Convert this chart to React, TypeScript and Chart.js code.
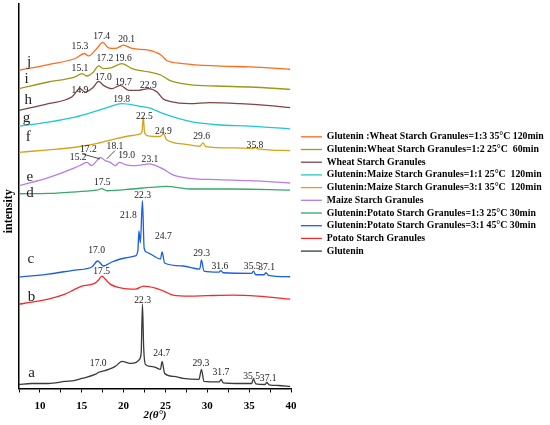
import { useEffect, useRef } from 'react';
import { Chart, registerables } from 'chart.js';

Chart.register(...registerables);
Chart.defaults.font.family = '"Liberation Serif", "Times New Roman", serif';

type Pt = [number, number];

// 2θ (deg) vs intensity (arbitrary, curves stacked)
const gluteninA: Pt[] = [
   [7.5, 4], [9, 5], [11, 5], [13, 7], [14.2, 8], [15, 10], [16.6, 14], [17, 16], [17.4, 17], [18.2, 19],
   [19, 22], [19.8, 27], [20.8, 25], [21.5, 26], [21.9, 29], [22.1, 36], [22.25, 84], [22.4, 40], [22.6, 24],
   [23.2, 22], [23.8, 21], [24.4, 19], [24.6, 27], [24.9, 15], [26, 12], [27.1, 10], [29, 9], [29.3, 19],
   [29.6, 7], [31.4, 6.5], [31.65, 9], [31.9, 5.5], [33.5, 5], [35.3, 5], [35.5, 9.5], [35.8, 4.7],
   [36.9, 4], [37.1, 6], [37.4, 3.7], [38.5, 3], [39.9, 2],
];
const potatoB: Pt[] = [
   [7.5, 84], [9, 86], [11, 89], [13, 94], [14, 98], [15, 102], [16.6, 105], [17, 108], [17.4, 112],
   [17.8, 109], [18.4, 104], [19.8, 100], [21.4, 99], [22.4, 102], [23.8, 100], [24.8, 97], [25.9, 93],
   [27.9, 92], [30, 92.5], [33.1, 93], [36, 92], [39.9, 89],
];
const glutPotato31C: Pt[] = [
   [7.5, 111], [11, 114], [14.2, 118], [16.2, 121], [16.9, 127], [17.6, 122], [18.6, 126], [20.2, 130],
   [21.4, 132], [21.7, 137], [21.83, 157], [22, 145], [22.25, 187], [22.45, 140], [22.7, 136], [23.2, 134],
   [24.4, 129], [24.6, 136], [24.9, 125], [27.1, 122], [29.1, 119], [29.3, 128], [29.6, 117], [31.4, 116],
   [31.6, 117.5], [31.9, 115.3], [35.3, 114.7], [35.5, 117], [35.8, 113.3], [36.8, 113.3], [37, 115.5],
   [37.3, 112.7], [39.9, 111.3],
];
const glutPotato13D: Pt[] = [
   [7.5, 194], [11, 194.3], [15, 196.3], [16.8, 197.5], [17.4, 199], [18, 197], [21, 198.7], [23.2, 200.3],
   [25.1, 201.3], [27.9, 198.7], [33.1, 198.7], [39.9, 197.7],
];
const maizeE: Pt[] = [
   [7.5, 202], [11, 210], [14.2, 220], [15, 223], [15.6, 225.3], [16.2, 222], [16.8, 227], [17.2, 230.3],
   [17.8, 227], [18.4, 225.3], [19, 222], [19.5, 225.3], [20.2, 223], [21, 222], [22, 222.5], [23, 223.7],
   [24.7, 218.7], [25.9, 212.7], [27.9, 209.3], [31.1, 208], [35.1, 207], [39.9, 204.7],
];
const glutMaize31F: Pt[] = [
   [7.5, 235.3], [11, 237.7], [14.2, 240.3], [16.6, 243.7], [19, 248.7], [21, 252], [22, 253.7], [22.2, 256],
   [22.35, 270.3], [22.5, 255], [22.8, 252], [24.3, 251], [24.8, 253.7], [25.1, 248], [27.1, 243.7],
   [29.1, 241.3], [29.5, 244.7], [29.8, 241], [33.1, 239.7], [35.5, 239], [35.7, 240.3], [36, 238.7],
   [39.9, 237],
];
const glutMaize11G: Pt[] = [
   [7.5, 261.3], [11, 265.3], [14.2, 270.3], [16.6, 276], [18.2, 280.3], [19.8, 283.7], [21.8, 281.3],
   [23.2, 279.3], [23.8, 277], [25.1, 272.7], [27.9, 266], [31.1, 262.7], [35.1, 261.3], [39.9, 258.7],
];
const wheatH: Pt[] = [
   [7.5, 277], [11, 283.7], [13.8, 290.3], [14.8, 298.7], [15.4, 295.3], [16.4, 300.3], [17, 306],
   [17.6, 302], [18.6, 298.7], [19.6, 302], [20.6, 297], [21.8, 297], [23, 298.7], [24, 295.3],
   [24.7, 288.7], [25.5, 286], [27.9, 283.7], [30.3, 284.7], [33.9, 283.7], [37.1, 282], [39.9, 279.7],
];
const glutWheat12I: Pt[] = [
   [7.5, 298.7], [11, 305.3], [14.2, 310.3], [15, 313.7], [15.6, 311.3], [16.4, 315.3], [17, 321.3],
   [17.6, 318.7], [18.6, 319.7], [19.8, 323.7], [21, 318.7], [23, 315.3], [24.5, 312], [25.5, 307],
   [27.9, 302.7], [31.1, 301.3], [35.1, 300.3], [39.9, 298],
];
const glutWheat13J: Pt[] = [
   [7.5, 317], [11, 322.7], [14.2, 328.7], [15.3, 333.7], [15.8, 331.3], [16.8, 338.7], [17.5, 344.7],
   [18.2, 339.3], [19, 338.7], [20, 342], [21, 338.7], [23, 337], [24.5, 332], [25.1, 327], [27.1, 323.7],
   [31.1, 321.3], [35.1, 320.3], [39.9, 318],
];

const seriesData = [
   gluteninA, potatoB, glutPotato31C, glutPotato13D, maizeE,
   glutMaize31F, glutMaize11G, wheatH, glutWheat12I, glutWheat13J,
];
const seriesNames = [
   'Glutenin',
   'Potato Starch Granules',
   'Glutenin:Potato Starch Granules=3:1 45°C 30min',
   'Glutenin:Potato Starch Granules=1:3 25°C 30min',
   'Maize Starch Granules',
   'Glutenin:Maize Starch Granules=3:1 35°C  120min',
   'Glutenin:Maize Starch Granules=1:1 25°C  120min',
   'Wheat Starch Granules',
   'Glutenin:Wheat Starch Granules=1:2 25°C  60min',
   'Glutenin :Wheat Starch Granules=1:3 35°C 120min',
];
const seriesColors = [
   '#3a3a3a', '#f5282a', '#1a5ee6', '#35a86a', '#b57ded',
   '#d6a21a', '#1ec8d2', '#7e4545', '#9a9a17', '#ff6b1a',
];

// curve letters and peak labels: [2θ, intensity, text]
const curveLetters: [number, number, string][] = [
   [9.0, 15, 'a'], [9.0, 91, 'b'], [8.9, 129, 'c'], [8.8, 195, 'd'], [8.8, 211, 'e'],
   [8.6, 250, 'f'], [8.4, 269, 'g'], [8.6, 287, 'h'], [8.4, 308, 'i'], [8.7, 325, 'j'],
];
const peakLabels: [number, number, string][] = [
   [14.79, 340.3, '15.3'], [17.38, 351, '17.4'], [20.37, 347.7, '20.1'],
   [14.79, 318.7, '15.1'], [17.77, 328.7, '17.2'], [19.96, 328.7, '19.6'],
   [14.79, 297, '14.9'], [17.57, 310.3, '17.0'], [19.96, 305.3, '19.7'], [22.95, 302, '22.9'],
   [19.77, 288, '19.8'],
   [22.47, 271.3, '22.5'], [24.74, 256.3, '24.9'], [29.33, 251, '29.6'], [35.7, 242, '35.8'],
   [15.78, 237.7, '17.2'], [18.97, 241, '18.1'], [14.58, 229.7, '15.2'], [20.37, 232, '19.0'], [23.15, 227.7, '23.1'],
   [17.45, 205, '17.5'],
   [22.28, 192.7, '22.3'], [20.56, 172, '21.8'], [24.74, 151, '24.7'], [16.78, 137.7, '17.0'],
   [29.33, 134.3, '29.3'], [31.51, 122, '31.6'], [35.37, 121.7, '35.5'], [37.09, 121, '37.1'],
   [17.38, 116.3, '17.5'],
   [22.28, 88, '22.3'], [24.55, 35.3, '24.7'], [16.97, 25.3, '17.0'], [29.24, 25.3, '29.3'],
   [31.63, 16.3, '31.7'], [35.3, 11.7, '35.5'], [37.28, 9.7, '37.1'],
];
// pointer lines for the maize peaks: [x1, y1, x2, y2]
const pointerLines: [number, number, number, number][] = [
   [15.06, 233.7, 17.18, 228.7],
   [18.97, 237, 17.98, 228.7],
];

const annotationPlugin = {
   id: 'peakText',
   afterDatasetsDraw(chart: Chart) {
      const { ctx } = chart;
      const xs = chart.scales.x;
      const ys = chart.scales.y;
      ctx.save();
      ctx.fillStyle = '#222';
      ctx.textAlign = 'center';
      ctx.textBaseline = 'middle';
      ctx.font = '9.6px "Liberation Serif"';
      peakLabels.forEach(([vx, vy, t]) => {
         ctx.fillText(t, xs.getPixelForValue(vx), ys.getPixelForValue(vy));
      });
      ctx.font = '15px "Liberation Serif"';
      curveLetters.forEach(([vx, vy, t]) => {
         ctx.fillText(t, xs.getPixelForValue(vx), ys.getPixelForValue(vy));
      });
      ctx.strokeStyle = '#222';
      ctx.lineWidth = 0.8;
      pointerLines.forEach(([x1, y1, x2, y2]) => {
         ctx.beginPath();
         ctx.moveTo(xs.getPixelForValue(x1), ys.getPixelForValue(y1));
         ctx.lineTo(xs.getPixelForValue(x2), ys.getPixelForValue(y2));
         ctx.stroke();
      });
      ctx.restore();
   },
};

export default function App() {
   const chartRef = useRef<HTMLCanvasElement>(null);
   const chartInstance = useRef<Chart | null>(null);

   useEffect(() => {
      document.body.style.margin = '0';
      if (!chartRef.current) return;
      if (chartInstance.current) chartInstance.current.destroy();

      chartInstance.current = new Chart(chartRef.current, {
         type: 'line',
         data: {
            datasets: seriesData.map((pts, i) => ({
               label: seriesNames[i],
               data: pts.map(([x, y]) => ({ x, y })),
               borderColor: seriesColors[i],
               backgroundColor: seriesColors[i],
               borderWidth: 1.3,
               pointRadius: 0,
               cubicInterpolationMode: 'monotone' as const,
            })),
         },
         options: {
            responsive: true,
            maintainAspectRatio: false,
            animation: false,
            layout: { padding: { top: 4, right: 0, bottom: 0, left: 0 } },
            scales: {
               x: {
                  type: 'linear',
                  min: 7.5,
                  max: 40,
                  border: { display: true, color: '#000', width: 1.5 },
                  grid: {
                     display: true,
                     drawOnChartArea: false,
                     drawTicks: true,
                     tickLength: 4,
                     color: '#000',
                     lineWidth: 1,
                  },
                  ticks: {
                     stepSize: 2.5,
                     autoSkip: false,
                     maxRotation: 0,
                     padding: 8.5,
                     color: '#000',
                     font: { size: 11, weight: 'bold', lineHeight: 1 },
                     callback: (v) => (Number(v) % 5 === 0 ? String(v) : ''),
                  },
                  title: {
                     display: true,
                     text: '2(θ°)',
                     color: '#000',
                     font: { size: 11, weight: 'bold', style: 'italic', lineHeight: 1 },
                     padding: { top: -11, bottom: 4.5 },
                  },
               },
               y: {
                  min: 0,
                  max: 383,
                  border: { display: true, color: '#000', width: 1.5 },
                  grid: { display: false, drawTicks: false },
                  ticks: { display: false },
                  title: {
                     display: true,
                     text: 'intensity\u00a0\u00a0\u00a0\u00a0\u00a0\u00a0\u00a0\u00a0\u00a0\u00a0',
                     color: '#000',
                     font: { size: 12, weight: 'bold' },
                     padding: { top: 2, bottom: 2.6 },
                  },
               },
               gap: {
                  position: 'right',
                  display: true,
                  grid: { display: false, drawTicks: false },
                  border: { display: false },
                  ticks: { display: false },
                  afterFit: (s) => {
                     s.width = 7;
                  },
               },
            },
            plugins: {
               legend: {
                  position: 'right',
                  align: 'start',
                  reverse: true,
                  maxWidth: 252,
                  title: {
                     display: true,
                     text: ' ',
                     font: { size: 10, lineHeight: 1.2 },
                     padding: { top: 113, bottom: 0 },
                  },
                  labels: {
                     usePointStyle: true,
                     pointStyle: 'line',
                     pointStyleWidth: 21,
                     padding: 2.9,
                     color: '#000',
                     font: { size: 9.8, weight: 'bold' },
                  },
               },
               tooltip: { enabled: false },
            },
         },
         plugins: [annotationPlugin],
      });

      return () => {
         if (chartInstance.current) {
            chartInstance.current.destroy();
            chartInstance.current = null;
         }
      };
   }, []);

   return (
      <div style={{ position: 'relative', width: 550, height: 425 }}>
         <canvas ref={chartRef} />
      </div>
   );
}
